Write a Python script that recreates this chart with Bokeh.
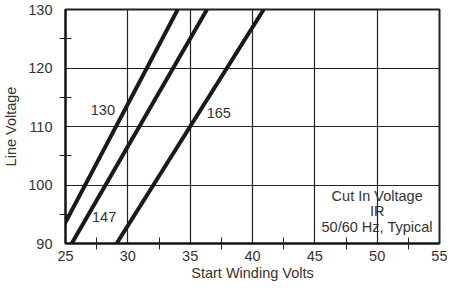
from bokeh.plotting import figure
from bokeh.models import FixedTicker
from bokeh.core.properties import value
from bokeh.embed import file_html
from bokeh.resources import INLINE

# Data: start winding volts at line voltage 90 and 130 for each curve
line_voltage = [90, 130]
volts_130 = [24.1, 34.0]
volts_147 = [25.5, 36.35]
volts_165 = [29.1, 40.9]

curve_labels = ["130", "147", "165"]
label_x = [28.0, 28.1, 37.3]
label_y = [112.8, 94.5, 112.3]

x_ticks = [25, 30, 35, 40, 45, 50, 55]
x_minor = [27.5, 32.5, 37.5, 42.5, 47.5, 52.5]
y_ticks = [90, 100, 110, 120, 130]
y_minor = [95, 105, 115, 125]

note_lines = ["Cut In Voltage", "IR", "50/60 Hz, Typical"]
note_x = [50, 50, 50]
note_y = [98.05, 95.5, 92.9]

FONT = "Liberation Sans"
FS = "14.5px"

p = figure(width=447, height=283, x_range=(25, 55), y_range=(90, 130),
           output_backend="svg", toolbar_location=None,
           min_border_left=62, min_border_right=8, min_border_top=9,
           min_border_bottom=10)
p.background_fill_color = "white"
p.border_fill_color = "white"
p.outline_line_color = "#222222"
p.outline_line_width = 2

p.xaxis.ticker = FixedTicker(ticks=x_ticks, minor_ticks=x_minor)
p.yaxis.ticker = FixedTicker(ticks=y_ticks, minor_ticks=y_minor)
for ax in (p.xaxis[0], p.yaxis[0]):
    ax.axis_line_color = "#111111"
    ax.axis_line_width = 2
    ax.major_tick_in = 0
    ax.major_tick_out = 0
    ax.minor_tick_in = 6
    ax.minor_tick_out = 6
    ax.minor_tick_line_color = "#222222"
    ax.minor_tick_line_width = 1
    ax.major_label_text_font = FONT
    ax.major_label_text_font_size = FS
    ax.major_label_text_color = "#333333"
    ax.axis_label_text_font = FONT
    ax.axis_label_text_font_size = FS
    ax.axis_label_text_font_style = "normal"
    ax.axis_label_text_color = "#333333"

p.xaxis.major_label_standoff = 1
p.xaxis.axis_label = "Start Winding Volts"
p.xaxis.axis_label_standoff = 1
p.yaxis.major_label_standoff = 7
p.yaxis.axis_label = "Line Voltage"
p.yaxis.axis_label_standoff = 6

p.xgrid.ticker = FixedTicker(ticks=x_ticks)
p.ygrid.ticker = FixedTicker(ticks=y_ticks)
p.grid.grid_line_color = "#222222"
p.grid.grid_line_width = 1.2
p.grid.grid_line_alpha = 1

for vx in (volts_130, volts_147, volts_165):
    p.line(vx, line_voltage, line_color="#1a1a1a", line_width=4)

p.text(x=label_x, y=label_y, text=curve_labels, text_font=value(FONT),
       text_font_size=FS, text_color="#333333",
       text_align="center", text_baseline="middle")

p.text(x=note_x, y=note_y, text=note_lines, text_font=value(FONT),
       text_font_size=FS, text_color="#333333",
       text_align="center", text_baseline="middle")

open("out.html", "w").write(file_html(p, INLINE))
